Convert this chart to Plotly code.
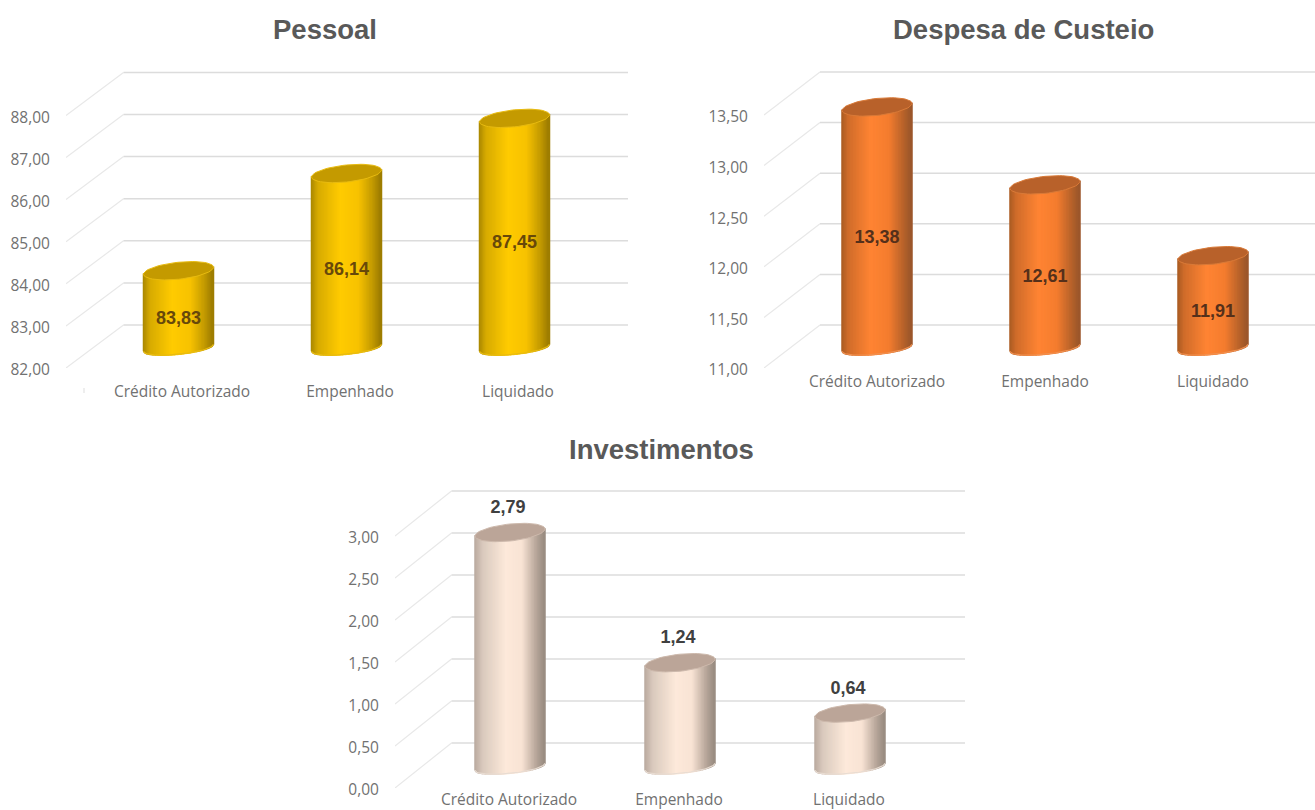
import math
import plotly.graph_objects as go

# ---------- data ----------
categories = ["Crédito Autorizado", "Empenhado", "Liquidado"]
pessoal_values = [83.83, 86.14, 87.45]
custeio_values = [13.38, 12.61, 11.91]
invest_values = [2.79, 1.24, 0.64]
pessoal_ticks = [82, 83, 84, 85, 86, 87, 88]
custeio_ticks = [11.0, 11.5, 12.0, 12.5, 13.0, 13.5]
invest_ticks = [0.0, 0.5, 1.0, 1.5, 2.0, 2.5, 3.0]
titles = ["Pessoal", "Despesa de Custeio", "Investimentos"]


def br(v):
    return f"{v:.2f}".replace(".", ",")


W, H = 1315, 810
GRID_H = "#dcdcdc"
GRID_O = "#e8e8e8"
TICK_FONT = dict(family="Open Sans", size=15.5, color="#717171")

PANELS = [
    dict(vals=pessoal_values, ticks=pessoal_ticks, left=66, right=628, top=66, bottom=368, ppu=42.1,
         cat0=182, step=168, cyl_off=-3.5, lab_off=0, xticklen=9, xstandoff=0, dx=57.5, dy=43,
         inside=True, label_dy=10, label_color="#67480a",
         stops=[(0, "#a88600"), (.10, "#d6aa00"), (.42, "#ffcb00"), (.68, "#f7c200"), (.88, "#c39a00"), (1, "#9a7a00")],
         cap="#c49a00", rim="#e8bb10", base_rim="#e8bb10"),
    dict(vals=custeio_values, ticks=custeio_ticks, left=764, right=1315, top=66, bottom=368, ppu=101.2,
         cat0=877, step=168, cyl_off=0, lab_off=0, xticklen=0, xstandoff=-1, dx=56, dy=43,
         inside=True, label_dy=11, label_color="#55301a",
         stops=[(0, "#a85a22"), (.10, "#d06c2a"), (.42, "#ff8433"), (.68, "#f47c2e"), (.88, "#b9632a"), (1, "#99552a")],
         cap="#b8612a", rim="#d97a38", base_rim="#f09050"),
    dict(vals=invest_values, ticks=invest_ticks, left=395, right=965, top=485, bottom=788, ppu=84,
         cat0=509, step=170, cyl_off=1, lab_off=-2, xticklen=0, xstandoff=-3, dx=56.5, dy=45,
         inside=False, label_dy=0, label_color="#404040",
         stops=[(0, "#b8a99e"), (.12, "#d9c9bd"), (.45, "#fde9da"), (.68, "#f8e3d4"), (.88, "#b8a79b"), (1, "#978a80")],
         cap="#bba598", rim="#cdb9ac", base_rim="#e8dcd2"),
]
TITLE_POS = [(325, 30), (1024, 30), (662, 449)]
RADIUS = 35
CAP_B = 8.5
BASE_B = 6.5
TILT = 3.5
BASE_DEPTH = 0.47
N_SLICES = 48


def hex2rgb(h):
    return [int(h[i:i + 2], 16) for i in (1, 3, 5)]


def grad(stops, f):
    for (a, ca), (b, cb) in zip(stops, stops[1:]):
        if f <= b:
            t = (f - a) / (b - a)
            r0, r1 = hex2rgb(ca), hex2rgb(cb)
            return "rgb(%d,%d,%d)" % tuple(round(x + (y - x) * t) for x, y in zip(r0, r1))
    return stops[-1][1]


fig = go.Figure()
layout_axes = {}
annotations = []

for n, p in enumerate(PANELS):
    sfx = "" if n == 0 else str(n + 1)
    xa, ya = "x" + sfx, "y" + sfx
    vmin = p["ticks"][0]
    xu = lambda px, p=p: px / p["step"]
    yu = lambda px, p=p: px / p["ppu"]
    x_lo = (p["left"] - p["cat0"]) / p["step"]
    x_hi = (p["right"] - p["cat0"]) / p["step"]
    y_hi = vmin + (p["bottom"] - p["top"]) / p["ppu"]
    layout_axes["xaxis" + sfx] = dict(
        domain=[p["left"] / W, p["right"] / W], range=[x_lo, x_hi], anchor=ya, automargin=False,
        tickmode="array", tickvals=[0, 1, 2], ticktext=categories, showgrid=False, zeroline=False,
        showline=False, ticks="outside", ticklen=p["xticklen"], tickcolor="rgba(0,0,0,0)",
        ticklabelstandoff=p["xstandoff"], tickfont=TICK_FONT, fixedrange=True)
    layout_axes["yaxis" + sfx] = dict(
        domain=[1 - p["bottom"] / H, 1 - p["top"] / H], range=[vmin, y_hi], anchor=xa, automargin=False,
        tickmode="array", tickvals=p["ticks"], ticktext=[br(t) for t in p["ticks"]], showgrid=False,
        zeroline=False, showline=False, ticks="outside", ticklen=12, tickcolor="rgba(0,0,0,0)",
        ticklabelshift=2, tickfont=TICK_FONT, fixedrange=True)

    # grid: oblique side wall, then the back wall
    ox, oy, hx, hy = [], [], [], []
    for t in p["ticks"]:
        ox += [x_lo, x_lo + xu(p["dx"]), None]
        oy += [t, t + yu(p["dy"]), None]
        hx += [x_lo + xu(p["dx"]), x_hi, None]
        hy += [t + yu(p["dy"]), t + yu(p["dy"]), None]
    common = dict(mode="lines", xaxis=xa, yaxis=ya, hoverinfo="skip", showlegend=False)
    fig.add_trace(go.Scatter(x=ox, y=oy, line=dict(color=GRID_O, width=1.2), **common))
    fig.add_trace(go.Scatter(x=hx, y=hy, line=dict(color=GRID_H, width=1.5), **common))

    # cylinders
    lab_x, lab_y = [], []
    for i, v in enumerate(p["vals"]):
        cx = i + xu(p["cyl_off"])
        base = vmin + yu(p["dy"] * BASE_DEPTH)
        top = base + (v - vmin)
        bot = lambda u: base + yu(TILT * u - BASE_B * math.sqrt(max(0, 1 - u * u)))
        tp = lambda u: top + yu(TILT * u)
        for s in range(N_SLICES):
            u0 = -1 + 2 * s / N_SLICES
            u1 = -1 + 2 * (s + 1) / N_SLICES
            col = grad(p["stops"], (s + .5) / N_SLICES)
            fig.add_trace(go.Scatter(
                x=[cx + xu(RADIUS * u0), cx + xu(RADIUS * u1), cx + xu(RADIUS * u1), cx + xu(RADIUS * u0), cx + xu(RADIUS * u0)],
                y=[bot(u0), bot(u1), tp(u1), tp(u0), bot(u0)],
                fill="toself", fillcolor=col, line=dict(color=col, width=1.5), **common))
        # bottom rim
        us = [-1 + 2 * k / 40 for k in range(41)]
        fig.add_trace(go.Scatter(
            x=[cx + xu(RADIUS * u) for u in us], y=[bot(u) for u in us],
            line=dict(color=p["base_rim"], width=1.2), **common))
        # top cap
        ts = [2 * math.pi * k / 60 for k in range(61)]
        fig.add_trace(go.Scatter(
            x=[cx + xu(RADIUS * math.cos(t)) for t in ts],
            y=[top + yu(TILT * math.cos(t) + CAP_B * math.sin(t)) for t in ts],
            fill="toself", fillcolor=p["cap"], line=dict(color=p["rim"], width=1), **common))
        lab_x.append(cx + xu(p["lab_off"]))
        if p["inside"]:
            lab_y.append((base + top) / 2 - yu(p["label_dy"]))
        else:
            lab_y.append(top + yu(24))
    fig.add_trace(go.Scatter(
        x=lab_x, y=lab_y, mode="text", text=[br(v) for v in p["vals"]], textposition="middle center",
        textfont=dict(family="Liberation Sans", size=18, color=p["label_color"], weight="bold"),
        xaxis=xa, yaxis=ya, hoverinfo="skip", showlegend=False))

    tx, ty = TITLE_POS[n]
    annotations.append(dict(
        text=titles[n], xref="paper", yref="paper", x=tx / W, y=1 - ty / H, showarrow=False,
        xanchor="center", yanchor="middle",
        font=dict(family="Liberation Sans", size=27.5, color="#595959", weight="bold")))

fig.update_layout(
    width=W, height=H, margin=dict(l=0, r=0, t=0, b=0), autosize=False,
    paper_bgcolor="white", plot_bgcolor="white", showlegend=False, hovermode=False,
    annotations=annotations, **layout_axes,
    shapes=[dict(type="line", xref="paper", yref="paper", x0=84 / W, x1=84 / W,
                 y0=1 - 388 / H, y1=1 - 393 / H, line=dict(color="#dddddd", width=1))])

fig.write_html("out.html", post_script="document.body.style.margin='0';", config={"displayModeBar": False})
